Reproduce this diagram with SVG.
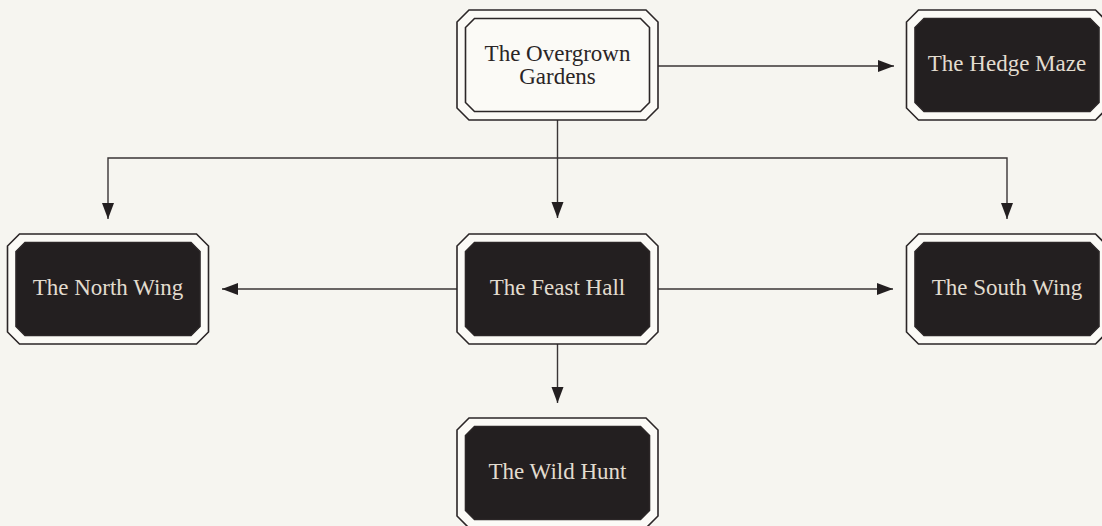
<svg xmlns="http://www.w3.org/2000/svg" width="1102" height="526" viewBox="0 0 1102 526">
  <style>
    .outer { fill: #fbfaf6; stroke: #2b2627; stroke-width: 1.6; }
    .inner { fill: #231f20; stroke: #2b2627; stroke-width: 1.6; }
    .inner.light { fill: #fbfaf6; }
    .label { font-family: "Liberation Serif", "DejaVu Serif", serif; font-size: 23px; text-anchor: middle; fill: #e2dccf; }
    .label.dark { fill: #2a2526; }
    .edge { fill: none; stroke: #3a3536; stroke-width: 1.4; }
  </style>
  <defs>
    <marker id="arrow" markerUnits="userSpaceOnUse" markerWidth="17" markerHeight="13" refX="16" refY="6" orient="auto">
      <path d="M0,0 L16,6 L0,12 Z" fill="#231f20"/>
    </marker>
    <polygon id="outerShape" points="12,0 189,0 201,12 201,98 189,110 12,110 0,98 0,12"/>
    <polygon id="innerShape" points="17.5,8.5 183.5,8.5 192.5,17.5 192.5,92.5 183.5,101.5 17.5,101.5 8.5,92.5 8.5,17.5"/>
  </defs>

  <rect width="1102" height="526" fill="#f6f5f0"/>

  <g id="connectors">
    <path class="edge" d="M658,66 H894" marker-end="url(#arrow)"/>
    <path class="edge" d="M557.5,120 V218" marker-end="url(#arrow)"/>
    <path class="edge" d="M557.5,158 H108 V219" marker-end="url(#arrow)"/>
    <path class="edge" d="M557.5,158 H1007 V219" marker-end="url(#arrow)"/>
    <path class="edge" d="M457,289 H222" marker-end="url(#arrow)"/>
    <path class="edge" d="M658,289 H893" marker-end="url(#arrow)"/>
    <path class="edge" d="M557.5,344 V403" marker-end="url(#arrow)"/>
  </g>

  <g id="node-gardens" transform="translate(457,10)">
    <use href="#outerShape" class="outer"/>
    <use href="#innerShape" class="inner light"/>
    <text class="label dark" x="100.5" y="51">The Overgrown</text>
    <text class="label dark" x="100.5" y="74">Gardens</text>
  </g>

  <g id="node-hedge" transform="translate(906.5,10)">
    <use href="#outerShape" class="outer"/>
    <use href="#innerShape" class="inner"/>
    <text class="label" x="100.5" y="61">The Hedge Maze</text>
  </g>

  <g id="node-north" transform="translate(7.5,234)">
    <use href="#outerShape" class="outer"/>
    <use href="#innerShape" class="inner"/>
    <text class="label" x="100.5" y="61">The North Wing</text>
  </g>

  <g id="node-feast" transform="translate(457,234)">
    <use href="#outerShape" class="outer"/>
    <use href="#innerShape" class="inner"/>
    <text class="label" x="100.5" y="61">The Feast Hall</text>
  </g>

  <g id="node-south" transform="translate(906.5,234)">
    <use href="#outerShape" class="outer"/>
    <use href="#innerShape" class="inner"/>
    <text class="label" x="100.5" y="61">The South Wing</text>
  </g>

  <g id="node-hunt" transform="translate(457,418)">
    <use href="#outerShape" class="outer"/>
    <use href="#innerShape" class="inner"/>
    <text class="label" x="100.5" y="61">The Wild Hunt</text>
  </g>
</svg>
